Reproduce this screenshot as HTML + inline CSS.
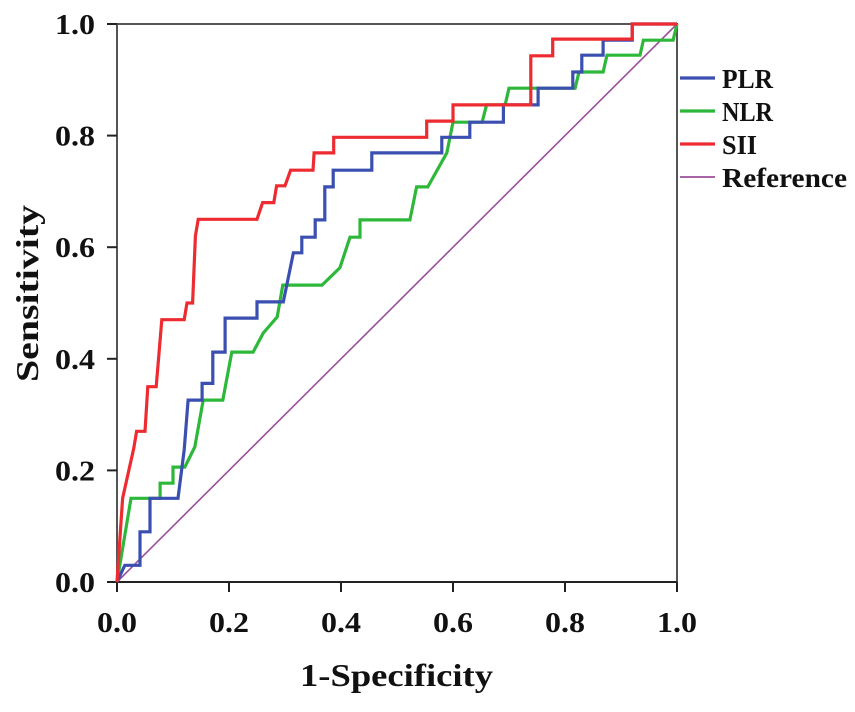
<!DOCTYPE html>
<html><head><meta charset="utf-8"><style>
body{margin:0;background:#fff}
svg text{font-family:"Liberation Serif",serif;font-weight:bold;fill:#111}
</style></head><body>
<svg width="855" height="707" xmlns="http://www.w3.org/2000/svg">
<g id="axes"></g><g id="series"></g><g id="legend"></g>
</svg>
<script>
const xTicks=[0,0.2,0.4,0.6,0.8,1.0];
const yTicks=[0,0.2,0.4,0.6,0.8,1.0];
const tickLabels=["0.0","0.2","0.4","0.6","0.8","1.0"];
const seriesNames=["PLR","NLR","SII","Reference"];
const seriesColors=["#3a4fb0","#2db83a","#ee2b30","#9b4f9b"];
const plrX=[0,0.014,0.041,0.041,0.059,0.059,0.109,0.12,0.127,0.152,0.152,0.171,0.171,0.193,0.193,0.25,0.25,0.297,0.315,0.33,0.33,0.354,0.354,0.371,0.371,0.386,0.386,0.455,0.455,0.58,0.58,0.63,0.63,0.69,0.69,0.752,0.752,0.814,0.814,0.83,0.83,0.868,0.868,0.92,0.92,1];
const plrY=[0,0.03,0.03,0.09,0.09,0.15,0.15,0.237,0.326,0.326,0.356,0.356,0.412,0.412,0.473,0.473,0.502,0.502,0.59,0.59,0.618,0.618,0.649,0.649,0.708,0.708,0.738,0.738,0.769,0.769,0.797,0.797,0.824,0.824,0.855,0.855,0.885,0.885,0.914,0.914,0.944,0.944,0.971,0.971,1,1];
const nlrX=[0,0.025,0.077,0.077,0.1,0.1,0.121,0.139,0.154,0.189,0.205,0.243,0.261,0.286,0.296,0.366,0.398,0.416,0.434,0.434,0.523,0.535,0.555,0.589,0.6,0.652,0.66,0.693,0.7,0.818,0.825,0.868,0.875,0.934,0.94,0.993,1];
const nlrY=[0,0.15,0.15,0.177,0.177,0.206,0.206,0.242,0.326,0.326,0.412,0.412,0.446,0.475,0.532,0.532,0.563,0.618,0.618,0.649,0.649,0.708,0.708,0.769,0.824,0.824,0.855,0.855,0.885,0.885,0.914,0.914,0.944,0.944,0.971,0.971,1];
const siiX=[0,0.01,0.03,0.035,0.05,0.055,0.07,0.075,0.08,0.12,0.125,0.135,0.14,0.145,0.25,0.26,0.28,0.285,0.3,0.31,0.35,0.352,0.387,0.387,0.553,0.553,0.60,0.60,0.739,0.739,0.778,0.778,0.92,0.92,1];
const siiY=[0,0.15,0.24,0.27,0.27,0.35,0.35,0.41,0.47,0.47,0.5,0.5,0.62,0.65,0.65,0.68,0.68,0.71,0.71,0.738,0.738,0.769,0.769,0.797,0.797,0.826,0.826,0.855,0.855,0.943,0.943,0.973,0.973,1,1];
const refX=[0,1], refY=[0,1];
const X0=117,X1=677,Y0=582,Y1=24;
const sx=v=>X0+v*(X1-X0), sy=v=>Y0-v*(Y0-Y1);
const NS="http://www.w3.org/2000/svg";
function mk(tag,attrs,parent){const e=document.createElementNS(NS,tag);for(const k in attrs)e.setAttribute(k,attrs[k]);parent.appendChild(e);return e;}
const ax=document.getElementById('axes');
let fr=mk('path',{d:`M${X0},${Y0}V${Y1}H${X1}V${Y0}`,fill:'none',stroke:'#555','stroke-width':2},ax);


let bx=mk('line',{x1:X0,y1:Y0,x2:X1,y2:Y0,stroke:'#222','stroke-width':2},ax);


xTicks.forEach((t,i)=>{
 let l=mk('line',{x1:sx(t),y1:Y0,x2:sx(t),y2:Y0+10,stroke:'#222','stroke-width':2},ax);
 
 
 let tx=mk('text',{x:sx(t)-20,y:632,'font-size':28,textLength:40,lengthAdjust:'spacingAndGlyphs'},ax);tx.textContent=tickLabels[i];
 
 
});
yTicks.forEach((t,i)=>{
 let l=mk('line',{x1:X0-10,y1:sy(t),x2:X0,y2:sy(t),stroke:'#222','stroke-width':2},ax);
 
 
 let tx=mk('text',{x:55,y:sy(t)+10,'font-size':28,textLength:40,lengthAdjust:'spacingAndGlyphs'},ax);tx.textContent=tickLabels[i];
 
 
});
let xt=mk('text',{x:300,y:686,'font-size':32,textLength:193,lengthAdjust:'spacingAndGlyphs'},ax);xt.textContent='1-Specificity';


let yt=mk('text',{x:0,y:0,'font-size':32,textLength:177,lengthAdjust:'spacingAndGlyphs',transform:`translate(38,382) rotate(-90)`},ax);yt.textContent='Sensitivity';


const sg=document.getElementById('series');
const data=[[plrX,plrY],[nlrX,nlrY],[siiX,siiY],[refX,refY]];
const order=[3,1,0,2];
order.forEach(i=>{
 const [xs,ys]=data[i];
 const pts=xs.map((v,j)=>sx(v).toFixed(1)+','+sy(ys[j]).toFixed(1)).join(' ');
 let p=mk('polyline',{points:pts,fill:'none',stroke:seriesColors[i],'stroke-width':i==3?1.6:3.2,'stroke-linejoin':'miter'},sg);
 
 
});
const lg=document.getElementById('legend');
const legW=[51,51,35,125];
seriesNames.forEach((n,i)=>{
 const y=78+i*33;
 let l=mk('line',{x1:680,y1:y,x2:715,y2:y,stroke:seriesColors[i],'stroke-width':i==3?1.8:3.2},lg);
 
 
 let t=mk('text',{x:722,y:y+10,'font-size':27,textLength:legW[i],lengthAdjust:'spacingAndGlyphs'},lg);t.textContent=n;
 
 
});
</script>
</body></html>
